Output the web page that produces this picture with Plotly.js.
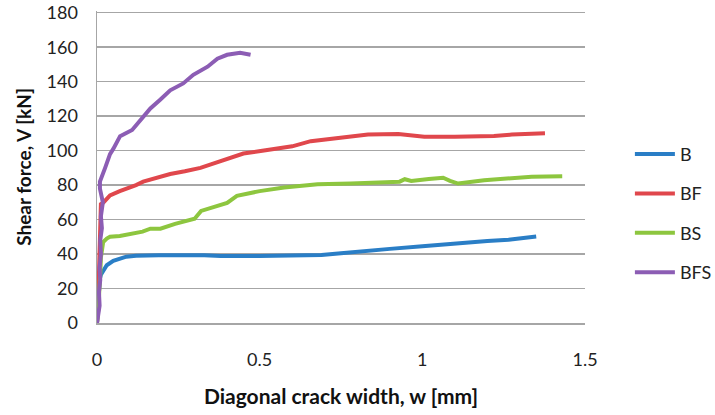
<!DOCTYPE html>
<html>
<head>
<meta charset="utf-8">
<script src="https://cdn.plot.ly/plotly-3.0.1.min.js"></script>
<style>
  body { margin: 0; padding: 0; background: #fff; }
  #chart { width: 715px; height: 415px; }
</style>
</head>
<body>
<div id="chart"></div>
<script>
// crack width w [mm] vs shear force V [kN]
var bX = [0, 0.003, 0.004, 0.005, 0.006, 0.008, 0.012, 0.02, 0.03, 0.05, 0.07, 0.09, 0.12, 0.19, 0.33, 0.38, 0.5, 0.6, 0.69, 0.75, 0.83, 0.9, 1.0, 1.14, 1.2, 1.265, 1.3, 1.35];
var bY = [0, 5, 10, 15, 20, 25, 28, 31, 33.5, 36, 37.5, 38.5, 39, 39.3, 39.3, 38.8, 38.8, 38.9, 39.5, 40.5, 42, 43, 44.5, 47, 47.6, 48.3, 49.2, 50.2];

var bfX = [0, 0.003, 0.004, 0.005, 0.006, 0.007, 0.008, 0.01, 0.012, 0.02, 0.04, 0.07, 0.093, 0.12, 0.142, 0.18, 0.225, 0.27, 0.318, 0.35, 0.389, 0.42, 0.45, 0.503, 0.55, 0.6, 0.657, 0.7, 0.75, 0.833, 0.926, 1.006, 1.1, 1.16, 1.22, 1.275, 1.33, 1.377];
var bfY = [0, 8, 15, 22, 30, 40, 52, 62, 69, 70, 74, 76.5, 78, 80, 82, 84, 86.4, 88, 90, 92, 94.5, 96.5, 98.3, 99.8, 101, 102.5, 105.5, 106.3, 107.2, 109.3, 109.7, 108, 108, 108, 108.5, 109.3, 109.6, 110.1];

var bsX = [0, 0.004, 0.005, 0.006, 0.008, 0.01, 0.012, 0.015, 0.019, 0.03, 0.04, 0.07, 0.11, 0.14, 0.164, 0.195, 0.24, 0.3, 0.32, 0.36, 0.4, 0.43, 0.472, 0.5, 0.575, 0.678, 0.78, 0.884, 0.93, 0.946, 0.966, 1.02, 1.064, 1.085, 1.11, 1.19, 1.296, 1.336, 1.43];
var bsY = [0, 5, 10, 15, 20, 28, 38, 43, 47, 49, 50, 50.5, 51.8, 53, 54.7, 54.7, 57.5, 60.5, 65, 67.5, 69.7, 73.8, 75.7, 76.5, 78.6, 80.5, 81, 81.4, 82, 83.4, 82.4, 83.5, 84.3, 82.5, 80.9, 82.8, 84, 84.9, 85.1];

var bfsX = [0, 0.004, 0.008, 0.006, 0.01, 0.008, 0.012, 0.01, 0.015, 0.012, 0.018, 0.009, 0.009, 0.025, 0.04, 0.05, 0.071, 0.108, 0.133, 0.164, 0.195, 0.225, 0.265, 0.296, 0.34, 0.37, 0.4, 0.44, 0.472];
var bfsY = [0, 5, 10, 18, 25, 32, 40, 48, 55, 62, 70, 78, 82, 90, 98, 101, 108.4, 112, 118, 124.5, 129.7, 135, 139, 144, 148.7, 153.3, 155.6, 156.8, 155.6];

var yTicks = [0, 20, 40, 60, 80, 100, 120, 140, 160, 180];
var xTicks = [0, 0.5, 1, 1.5];
var xTickText = ['0', '0.5', '1', '1.5'];

var names = ['B', 'BF', 'BS', 'BFS'];
var colors = ['#2a7ec6', '#e0474c', '#8dc63f', '#8c5db4'];
var xs = [bX, bfX, bsX, bfsX];
var ys = [bY, bfY, bsY, bfsY];

var font = 'Lato, "Open Sans", sans-serif';

var data = [];
for (var i = 0; i < names.length; i++) {
  data.push({
    x: xs[i],
    y: ys[i],
    name: names[i],
    legendgroup: names[i],
    type: 'scatter',
    mode: 'lines',
    line: { color: colors[i], width: 4 },
    cliponaxis: false
  });
}

var layout = {
  width: 715,
  height: 415,
  margin: { l: 97, r: 130, t: 11, b: 92, autoexpand: false },
  paper_bgcolor: '#fff',
  plot_bgcolor: '#fff',
  font: { family: font, size: 18, color: '#222' },
  showlegend: true,
  legend: {
    x: 1.092, xanchor: 'left',
    y: 0.6, yanchor: 'top',
    font: { family: font, size: 18, color: '#222' },
    itemwidth: 40,
    tracegroupgap: 13,
    bgcolor: 'rgba(0,0,0,0)'
  },
  xaxis: {
    range: [0, 1.5],
    tickvals: xTicks,
    ticktext: xTickText,
    showgrid: false,
    zeroline: false,
    showline: true,
    linecolor: '#a6a6a6',
    linewidth: 1.5,
    ticks: 'outside', ticklen: 20, tickcolor: 'rgba(0,0,0,0)',
    ticklabeloverflow: 'allow',
    title: { text: '<b>Diagonal crack width, w [mm]</b>', font: { family: font, size: 21, color: '#111' }, standoff: 20 }
  },
  yaxis: {
    range: [0, 181],
    tickvals: yTicks,
    showgrid: true,
    gridcolor: '#a6a6a6',
    gridwidth: 1.5,
    zeroline: false,
    showline: true,
    linecolor: '#a6a6a6',
    linewidth: 1.5,
    ticks: 'outside', ticklen: 14, tickcolor: 'rgba(0,0,0,0)',
    ticklabeloverflow: 'allow',
    title: { text: '<b>Shear force, V [kN]</b>', font: { family: font, size: 19, color: '#111' }, standoff: 10 }
  }
};

Plotly.newPlot('chart', data, layout, { displayModeBar: false, staticPlot: true });
</script>
</body>
</html>
